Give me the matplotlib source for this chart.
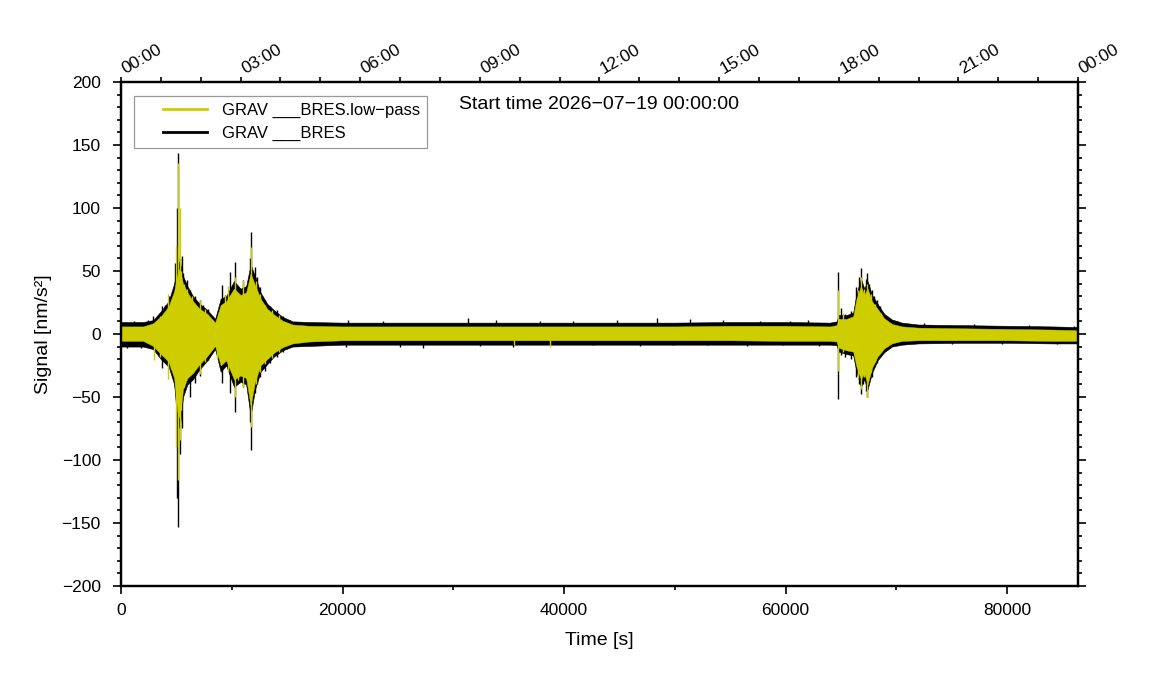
import numpy as np
import matplotlib
matplotlib.use("Agg")
import matplotlib.pyplot as plt
from matplotlib.ticker import MultipleLocator
from matplotlib.legend_handler import HandlerLine2D
from matplotlib.transforms import ScaledTranslation

plt.rcParams['font.family'] = ['Liberation Sans', 'DejaVu Sans']

# body of the traces (envelope) [s], [nm/s^2]
t_env = [0, 2000, 2900, 3600, 4300, 4800, 5100, 5300, 5600, 6000,
         6500, 7100, 7800, 8500, 9000, 9500, 10200, 10800, 11300, 11700,
         12100, 12600, 13200, 13800, 14600, 15500, 17000, 20000, 25000, 30000,
         35000, 40000, 45000, 50000, 55000, 60000, 64000, 64600, 64800, 65500,
         66100, 66400, 66800, 67100, 67400, 67800, 68300, 68900, 69600, 70500,
         72000, 76000, 80000, 84000, 86400]
blk_hi = [9.5, 9.5, 11, 18, 26, 40, 55, 58, 46, 38,
          30, 24, 19, 12, 28, 30, 42, 36, 38, 55,
          46, 33, 24, 19, 13.5, 10, 9.5, 9, 9, 9,
          9, 9, 9, 9, 9.5, 9.5, 9, 10, 15, 15,
          17, 32, 44, 36, 42, 31, 24, 16, 11.5, 9,
          7.5, 7, 6.5, 6, 5.5]
blk_lo = [-10, -10, -12, -20, -26, -40, -70, -75, -50, -40,
          -36, -28, -21, -12, -30, -25, -42, -38, -40, -65,
          -44, -30, -24, -18, -13, -10, -9.5, -8.5, -8.5, -8.5,
          -8.5, -8.5, -8.5, -8.5, -8.5, -8.5, -8.5, -9, -14, -16,
          -17, -30, -42, -36, -44, -31, -21, -14.5, -10, -8.5,
          -7.5, -7, -7, -7.5, -7.5]
yel_hi = [6, 6, 8.5, 14, 22, 34, 48, 52, 40, 33,
          26, 20, 16, 9, 23, 26, 36, 31, 33, 48,
          39, 28, 20, 15.5, 10.5, 7.5, 6.5, 6, 6, 6,
          6, 6, 6, 6, 6.5, 6.5, 6, 7, 12, 12,
          14, 28, 38, 31, 36, 26, 20, 12.5, 8, 6,
          5, 4.5, 4, 3.5, 3]
yel_lo = [-5.5, -5.5, -9.5, -16, -22, -35, -62, -67, -44, -35,
          -31, -24, -17.5, -9.5, -25, -21, -36, -33, -35, -57,
          -38, -25, -20, -15, -10.5, -7.5, -6, -5, -5, -5,
          -5, -5, -5, -5, -5, -5.5, -5.5, -6, -11, -13,
          -14, -26, -36, -31, -40, -27, -18, -11.5, -7.5, -5.5,
          -5, -5, -5, -5.5, -5.5]

# single spikes sticking out of the body
blk_spk_t = [500, 1200, 1800, 2400, 2920, 3220, 3670, 3970, 4300, 4600,
             4875, 5100, 5175, 5300, 5480, 5630, 5930, 6230, 6680, 7130,
             7430, 7880, 8180, 8640, 9120, 9390, 9840, 10290, 10590, 11040,
             11350, 11650, 11740, 12100, 12250, 12550, 13000, 13450, 14050, 14650,
             15250, 20350, 20500, 23650, 25190, 27270, 31330, 32400, 33900, 35390,
             37830, 40800, 42640, 44750, 46850, 48360, 49850, 51370, 52880, 54350,
             56490, 57690, 59760, 60400, 62000, 63000, 64700, 65000, 65400, 65900,
             66400, 66600, 66780, 67020, 67250, 67380, 67550, 67770, 68000, 68220,
             68500, 68820, 69300, 70030, 72500, 75000, 77000, 79500, 82000, 84500,
             86000]
blk_spk_lo = [-11, 0, -11.5, 0, -12, -13, -27, -18, -25, -30,
              -42, -130, -153, -95, -75, -47, -37, -50, -39, -33,
              -24, -21, -14, -12, -39, -23, -47, -62, -37, -42,
              -40, -70, -92, -47, -40, -34, -29, -23, -18, -14,
              -10, -10, 0, 0, -10.6, -11.4, 0, -9.5, 0, -10.6,
              0, 0, -9, 0, -9.5, 0, -8.5, 0, -9, 0,
              -9.5, 0, -9, 0, 0, -9.5, -52, -17, -18, -20,
              -34, -40, -48, -40, -45, -50, -36, -34, -26, -23,
              -18, -15, -11, -9, 0, -8, 0, -8, 0, -8,
              0]
blk_spk_hi = [0, 10.5, 0, 11, 14, 12, 22, 23, 30, 26,
              56, 100, 144, 60, 62, 48, 43, 35, 30, 27,
              23, 20, 14, 14, 39, 31, 49, 57, 30, 43,
              38, 60, 81, 53, 45, 37, 27, 22, 19, 14,
              11, 0, 11, 10.6, 0, 0, 12.4, 0, 11, 0,
              10.5, 10, 0, 11, 0, 12.4, 0, 11.7, 0, 11,
              0, 10.5, 0, 10.5, 11, 0, 49.5, 21, 16, 18,
              37.5, 45, 52, 38, 44, 48, 40, 35, 30, 27,
              22, 17, 13, 10, 9, 0, 8, 0, 7.5, 0,
              6.5]
yel_spk_t = [2950, 3500, 4270, 4500, 5000, 5175, 5300, 5450, 5700, 6000,
             6400, 7130, 7600, 8700, 9390, 9700, 10300, 10590, 11040, 11350,
             11700, 12150, 12550, 13000, 13600, 14300, 35500, 38730, 64700, 65200,
             66500, 66800, 67100, 67380, 67700, 68100, 68600]
yel_spk_lo = [-21, -18, -36, -28, -90, -116, -84, -60, -42, -35,
              -30, -32, -22, -20, -20, -30, -50, -36.5, -42, -36,
              -73.5, -40, -30, -24, -19, -14, -9, -10, -29, -14,
              -35, -44, -34, -50, -30, -22, -14]
yel_spk_hi = [6, 14, 32, 24, 70, 136, 100, 50, 40, 36,
              30, 27, 20, 10, 31, 38, 45, 30, 43, 30,
              69, 42, 32, 23, 19, 15, 0, 0, 35, 17,
              35, 45, 36, 40, 32, 24, 17]

hour_ticks = [0, 10800, 21600, 32400, 43200, 54000, 64800, 75600, 86400]
hour_labels = ['00:00', '03:00', '06:00', '09:00', '12:00', '15:00',
               '18:00', '21:00', '00:00']

black = 'black'
yellow = '#cdcd00'


class ShiftedLine(HandlerLine2D):
    # legend line drawn in the right part of the handle box only
    def get_xdata(self, legend, xdescent, ydescent, width, height, fontsize):
        xd, xm = super().get_xdata(legend, xdescent, ydescent, width, height, fontsize)
        xd = np.asarray(xd, dtype=float)
        xd[0] = xd[0] + 0.33 * width
        return xd, xm


fig = plt.figure(figsize=(11.51, 7.0), dpi=100)
ax = fig.add_axes([0.1051, 0.1629, 0.8315, 0.72])

ax.fill_between(t_env, blk_lo, blk_hi, color=black, lw=0.4, zorder=1)
ax.vlines(blk_spk_t, blk_spk_lo, blk_spk_hi, color=black, lw=1.0, zorder=1.5)
ax.fill_between(t_env, yel_lo, yel_hi, color=yellow, lw=0.3, zorder=2)
ax.vlines(yel_spk_t, yel_spk_lo, yel_spk_hi, color=yellow, lw=1.0, zorder=2.5)

# legend handles
ax.plot([], [], color=yellow, lw=2, label='GRAV ___BRES.low\u2212pass')
ax.plot([], [], color=black, lw=2, label='GRAV ___BRES')

ax.set_xlim(0, 86400)
ax.set_ylim(-200, 200)
ax.xaxis.set_major_locator(MultipleLocator(20000))
ax.xaxis.set_minor_locator(MultipleLocator(10000))
ax.yaxis.set_major_locator(MultipleLocator(50))
ax.yaxis.set_minor_locator(MultipleLocator(10))
ax.tick_params(which='both', direction='out', right=True, labelsize=12.5,
               width=1.2, colors='black')
ax.tick_params(which='major', length=5.5)
ax.tick_params(which='minor', length=3)
ax.tick_params(axis='x', pad=7)
ax.tick_params(axis='y', pad=9)
for sp in ax.spines.values():
    sp.set_linewidth(1.6)

ax.set_xlabel('Time [s]', fontsize=14, labelpad=10)
ax.set_ylabel('Signal [nm/s\u00b2]', fontsize=14, labelpad=7)

top = ax.twiny()
top.set_xlim(ax.get_xlim())
top.set_xticks(hour_ticks)
top.set_xticklabels(hour_labels, rotation=30, ha='left', va='bottom',
                    rotation_mode='anchor')
top.xaxis.set_minor_locator(MultipleLocator(3600))
top.tick_params(which='both', direction='out', labelsize=12.5, width=1.2, pad=0.5)
top.tick_params(which='major', length=3.5)
top.tick_params(which='minor', length=3.5)
for lab in top.get_xticklabels():
    lab.set_transform(lab.get_transform() + ScaledTranslation(0.06, 0, fig.dpi_scale_trans))
for sp in top.spines.values():
    sp.set_linewidth(1.6)

ax.text(0.353, 0.956, 'Start time 2026\u221207\u221219 00:00:00',
        transform=ax.transAxes, fontsize=14, ha='left', va='center')

leg = ax.legend(loc='upper left', bbox_to_anchor=(0.0136, 0.972), fontsize=12,
                fancybox=False, framealpha=1, edgecolor='#999999',
                handlelength=4.0, handletextpad=0.9, borderpad=0.4,
                labelspacing=0.48, borderaxespad=0,
                handler_map={matplotlib.lines.Line2D: ShiftedLine()})
leg.get_frame().set_linewidth(0.9)

fig.savefig('out.png', dpi=100)
